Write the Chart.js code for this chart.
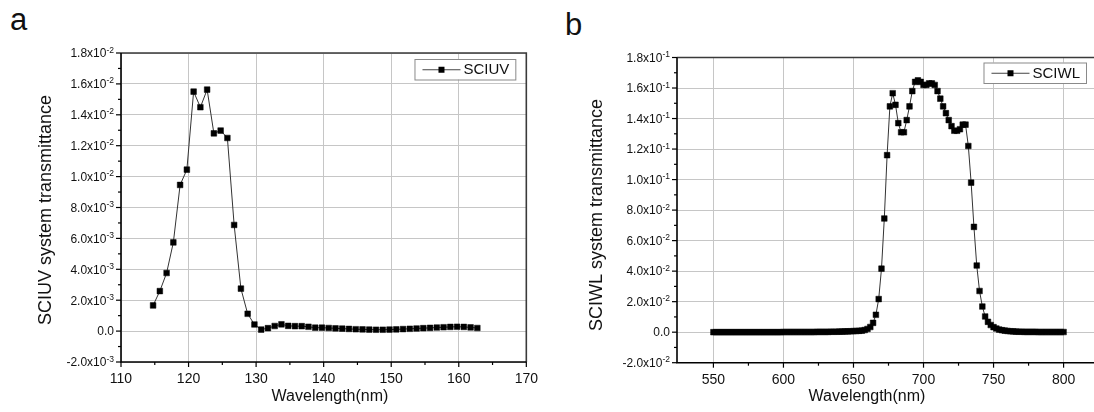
<!DOCTYPE html>
<html><head><meta charset="utf-8">
<script src="https://cdn.jsdelivr.net/npm/chart.js@4.4.1/dist/chart.umd.min.js"></script>
<style>
html,body{margin:0;padding:0;background:#fff;overflow:hidden;width:1094px;height:412px;position:relative;}
#wrapA{position:absolute;left:0;top:0;width:547px;height:412px;}
#wrapB{position:absolute;left:547px;top:0;width:560px;height:412px;}
.panel{position:absolute;font-family:"Liberation Sans",Arial,sans-serif;font-size:31px;line-height:1;color:#111;}
</style></head><body>
<div class="panel" style="left:10px;top:4px">a</div>
<div class="panel" style="left:565px;top:9px">b</div>
<div id="wrapA"><canvas id="cA" width="547" height="412"></canvas></div>
<div id="wrapB"><canvas id="cB" width="560" height="412"></canvas></div>
<script>
// ---------- Panel a : SCIUV ----------
const uvWavelength = [
 114.75,115.75,116.75,117.75,118.75,119.75,120.75,121.75,122.75,123.75,
 124.75,125.75,126.75,127.75,128.75,129.75,130.75,131.75,132.75,133.75,
 134.75,135.75,136.75,137.75,138.75,139.75,140.75,141.75,142.75,143.75,
 144.75,145.75,146.75,147.75,148.75,149.75,150.75,151.75,152.75,153.75,
 154.75,155.75,156.75,157.75,158.75,159.75,160.75,161.75,162.75];
const uvTransmittance = [
 0.00166,0.00259,0.00376,0.00574,0.00946,0.01045,0.0155,0.01449,0.01563,0.0128,
 0.01298,0.0125,0.00687,0.00275,0.00112,0.00043,0.00010,0.00019,0.00033,0.00044,
 0.00034,0.00032,0.00032,0.00028,0.00022,0.00022,0.00020,0.00018,0.00016,0.00014,
 0.00012,0.00011,0.00010,0.00009,0.00009,0.00010,0.00011,0.00013,0.00015,0.00017,
 0.00019,0.00021,0.00023,0.00025,0.00027,0.00028,0.00027,0.00024,0.00020];
const uvXTicks = [110,120,130,140,150,160,170];
const uvXMinor = [115,125,135,145,155,165];
const uvYTicks = [-0.002,0,0.002,0.004,0.006,0.008,0.010,0.012,0.014,0.016,0.018];
const uvYTickLabels = ['-2.0x10^-3','0.0','2.0x10^-3','4.0x10^-3','6.0x10^-3','8.0x10^-3',
 '1.0x10^-2','1.2x10^-2','1.4x10^-2','1.6x10^-2','1.8x10^-2'];
const uvYMinor = [-0.001,0.001,0.003,0.005,0.007,0.009,0.011,0.013,0.015,0.017];

// ---------- Panel b : SCIWL ----------
const wlWavelength = [
 550,552,554,556,558,560,562,564,566,568,
 570,572,574,576,578,580,582,584,586,588,
 590,592,594,596,598,600,602,604,606,608,
 610,612,614,616,618,620,622,624,626,628,
 630,632,634,636,638,640,642,644,646,648,
 650,652,654,656,658,660,662,664,666,668,
 670,672,674,676,678,680,682,684,686,688,
 690,692,694,696,698,700,702,704,706,708,
 710,712,714,716,718,720,722,724,726,728,
 730,732,734,736,738,740,742,744,746,748,
 750,752,754,756,758,760,762,764,766,768,
 770,772,774,776,778,780,782,784,786,788,
 790,792,794,796,798,800];
const wlTransmittance = [
 0,0,0,0,0,0,0,0,0,0,
 0,0,0,0,0,0,0,0,0,0,
 0,0,0,0,0,0.0001,0.0001,0.0001,0.0001,0.0001,
 0.0001,0.0001,0.0001,0.0001,0.0001,0.0001,0.0001,0.0002,0.0002,0.0002,
 0.0002,0.0002,0.0003,0.0003,0.0003,0.0004,0.0004,0.0005,0.0005,0.0006,
 0.0007,0.0008,0.0009,0.0010,0.0014,0.0021,0.0034,0.0061,0.0114,0.0217,
 0.0416,0.0745,0.116,0.148,0.1566,0.149,0.137,0.131,0.131,0.139,
 0.148,0.158,0.164,0.165,0.164,0.162,0.162,0.163,0.163,0.162,
 0.158,0.153,0.148,0.1435,0.139,0.135,0.132,0.132,0.133,0.136,
 0.136,0.122,0.098,0.069,0.0437,0.027,0.0168,0.0103,0.0068,0.0047,
 0.0033,0.0024,0.0017,0.0013,0.0010,0.0008,0.0006,0.0005,0.0004,0.0003,
 0.0003,0.0002,0.0002,0.0002,0.0002,0.0002,0.0001,0.0001,0.0001,0.0001,
 0.0001,0.0001,0.0001,0.0001,0.0001,0.0001];
const wlXTicks = [550,600,650,700,750,800];
const wlXMinor = [575,625,675,725,775];
const wlYTicks = [-0.02,0,0.02,0.04,0.06,0.08,0.10,0.12,0.14,0.16,0.18];
const wlYTickLabels = ['-2.0x10^-2','0.0','2.0x10^-2','4.0x10^-2','6.0x10^-2','8.0x10^-2',
 '1.0x10^-1','1.2x10^-1','1.4x10^-1','1.6x10^-1','1.8x10^-1'];
const wlYMinor = [-0.01,0.01,0.03,0.05,0.07,0.09,0.11,0.13,0.15,0.17];

const FONT = '"Liberation Sans", Arial, sans-serif';

const originStyle = {
  id: 'originStyle',
  afterDraw(chart, args, o) {
    const ctx = chart.ctx, a = chart.chartArea;
    const xs = chart.scales.x, ys = chart.scales.y;
    const line = (x1, y1, x2, y2) => { ctx.beginPath(); ctx.moveTo(x1, y1); ctx.lineTo(x2, y2); ctx.stroke(); };
    ctx.save();
    // frame
    ctx.lineWidth = 1.6;
    ctx.strokeStyle = '#3a3a3a';
    ctx.beginPath(); ctx.moveTo(a.left, a.top); ctx.lineTo(a.right, a.top); ctx.lineTo(a.right, a.bottom); ctx.stroke();
    ctx.strokeStyle = '#000';
    ctx.beginPath(); ctx.moveTo(a.left, a.top); ctx.lineTo(a.left, a.bottom); ctx.lineTo(a.right, a.bottom); ctx.stroke();
    // ticks
    ctx.lineWidth = 1.2;
    o.xMajor.forEach(v => { const x = xs.getPixelForValue(v); line(x, a.bottom, x, a.bottom + 5); });
    o.xMinor.forEach(v => { const x = xs.getPixelForValue(v); line(x, a.bottom, x, a.bottom + 3); });
    o.yMajor.forEach(v => { const y = ys.getPixelForValue(v); line(a.left - 5, y, a.left, y); });
    o.yMinor.forEach(v => { const y = ys.getPixelForValue(v); line(a.left - 3, y, a.left, y); });
    // y tick labels with superscript exponent
    ctx.fillStyle = '#111';
    ctx.textBaseline = 'alphabetic';
    const xr = a.left - 7;
    o.yMajor.forEach((v, i) => {
      const y = ys.getPixelForValue(v);
      const parts = o.yLabels[i].split('^');
      let supW = 0;
      if (parts.length > 1) {
        ctx.font = '8.5px ' + FONT;
        supW = ctx.measureText(parts[1]).width;
        ctx.textAlign = 'left';
        ctx.fillText(parts[1], xr - supW, y - 0.5);
      }
      ctx.font = '12px ' + FONT;
      ctx.textAlign = 'right';
      ctx.fillText(parts[0], xr - supW, y + 4.3);
    });
    // axis titles
    ctx.font = o.xTitle.size + 'px ' + FONT;
    ctx.textAlign = 'center'; ctx.textBaseline = 'middle';
    ctx.fillText(o.xTitle.text, o.xTitle.cx, o.xTitle.cy);
    ctx.save();
    ctx.translate(o.yTitle.cx, o.yTitle.cy); ctx.rotate(-Math.PI / 2);
    ctx.font = o.yTitle.size + 'px ' + FONT;
    ctx.fillText(o.yTitle.text, 0, 0);
    ctx.restore();
    // legend
    const lg = o.legend;
    ctx.font = '15px ' + FONT;
    const label = chart.data.datasets[0].label;
    const tw = ctx.measureText(label).width;
    const bw = 8 + 38 + 3 + tw + 6, bh = 20.5;
    const bx = a.right - lg.right - bw, by = a.top + lg.top;
    ctx.fillStyle = '#fff'; ctx.fillRect(bx, by, bw, bh);
    ctx.strokeStyle = '#8a8a8a'; ctx.lineWidth = 1; ctx.strokeRect(bx + 0.5, by + 0.5, bw, bh);
    const my = by + bh / 2 + 0.5;
    ctx.strokeStyle = '#444'; ctx.lineWidth = 1; line(bx + 8, my, bx + 46, my);
    ctx.fillStyle = '#000'; ctx.fillRect(bx + 27 - 3, my - 3, 6, 6);
    ctx.fillStyle = '#111'; ctx.textAlign = 'left'; ctx.textBaseline = 'middle';
    ctx.fillText(label, bx + 49, my + 0.5);
    ctx.restore();
  }
};

function makeChart(id, xs, ys, label, cfg) {
  const pts = xs.map((x, i) => ({ x: x, y: ys[i] }));
  return new Chart(document.getElementById(id), {
    type: 'scatter',
    data: { datasets: [{
      label: label, data: pts, showLine: true,
      borderColor: '#333', borderWidth: 1,
      pointStyle: 'rect', pointRadius: 4, pointHoverRadius: 4,
      pointBackgroundColor: '#000', pointBorderColor: '#000', pointBorderWidth: 0.5
    }] },
    options: {
      responsive: false, animation: false, events: [],
      layout: { padding: cfg.padding },
      plugins: { legend: { display: false }, tooltip: { enabled: false },
        originStyle: cfg.style },
      scales: {
        x: {
          type: 'linear', min: cfg.xMin, max: cfg.xMax,
          afterBuildTicks: s => { s.ticks = cfg.style.xMajor.map(v => ({ value: v })); },
          afterFit: s => { s.height = cfg.xHeight; },
          grid: { color: '#c6c6c6', lineWidth: 1, drawTicks: false },
          border: { display: false },
          ticks: { color: '#111', font: { family: FONT, size: 14 }, padding: 9,
                   maxRotation: 0, autoSkip: false, callback: v => String(v) }
        },
        y: {
          type: 'linear', min: cfg.yMin, max: cfg.yMax,
          afterBuildTicks: s => { s.ticks = cfg.style.yMajor.map(v => ({ value: v })); },
          afterFit: s => { s.width = cfg.yWidth; },
          grid: { color: '#c6c6c6', lineWidth: 1, drawTicks: false },
          border: { display: false },
          ticks: { display: false }
        }
      }
    },
    plugins: [originStyle]
  });
}

makeChart('cA', uvWavelength, uvTransmittance, 'SCIUV', {
  padding: { left: 0, top: 53, right: 10, bottom: 0 },
  xMin: 110, xMax: 170, yMin: -0.002, yMax: 0.018, xHeight: 50, yWidth: 121,
  style: { xMajor: uvXTicks, xMinor: uvXMinor, yMajor: uvYTicks, yMinor: uvYMinor, yLabels: uvYTickLabels,
    xTitle: { text: 'Wavelength(nm)', cx: 330, cy: 397, size: 16 },
    yTitle: { text: 'SCIUV system transmittance', cx: 46, cy: 210, size: 18 },
    legend: { right: 11, top: 6 } }
});

makeChart('cB', wlWavelength, wlTransmittance, 'SCIWL', {
  padding: { left: 0, top: 57.5, right: 7, bottom: 0 },
  xMin: 524, xMax: 826, yMin: -0.02, yMax: 0.18, xHeight: 49.3, yWidth: 130,
  style: { xMajor: wlXTicks, xMinor: wlXMinor, yMajor: wlYTicks, yMinor: wlYMinor, yLabels: wlYTickLabels,
    xTitle: { text: 'Wavelength(nm)', cx: 320, cy: 397, size: 16 },
    yTitle: { text: 'SCIWL system transmittance', cx: 50, cy: 215, size: 18 },
    legend: { right: 14, top: 5 } }
});
</script>
</body></html>
